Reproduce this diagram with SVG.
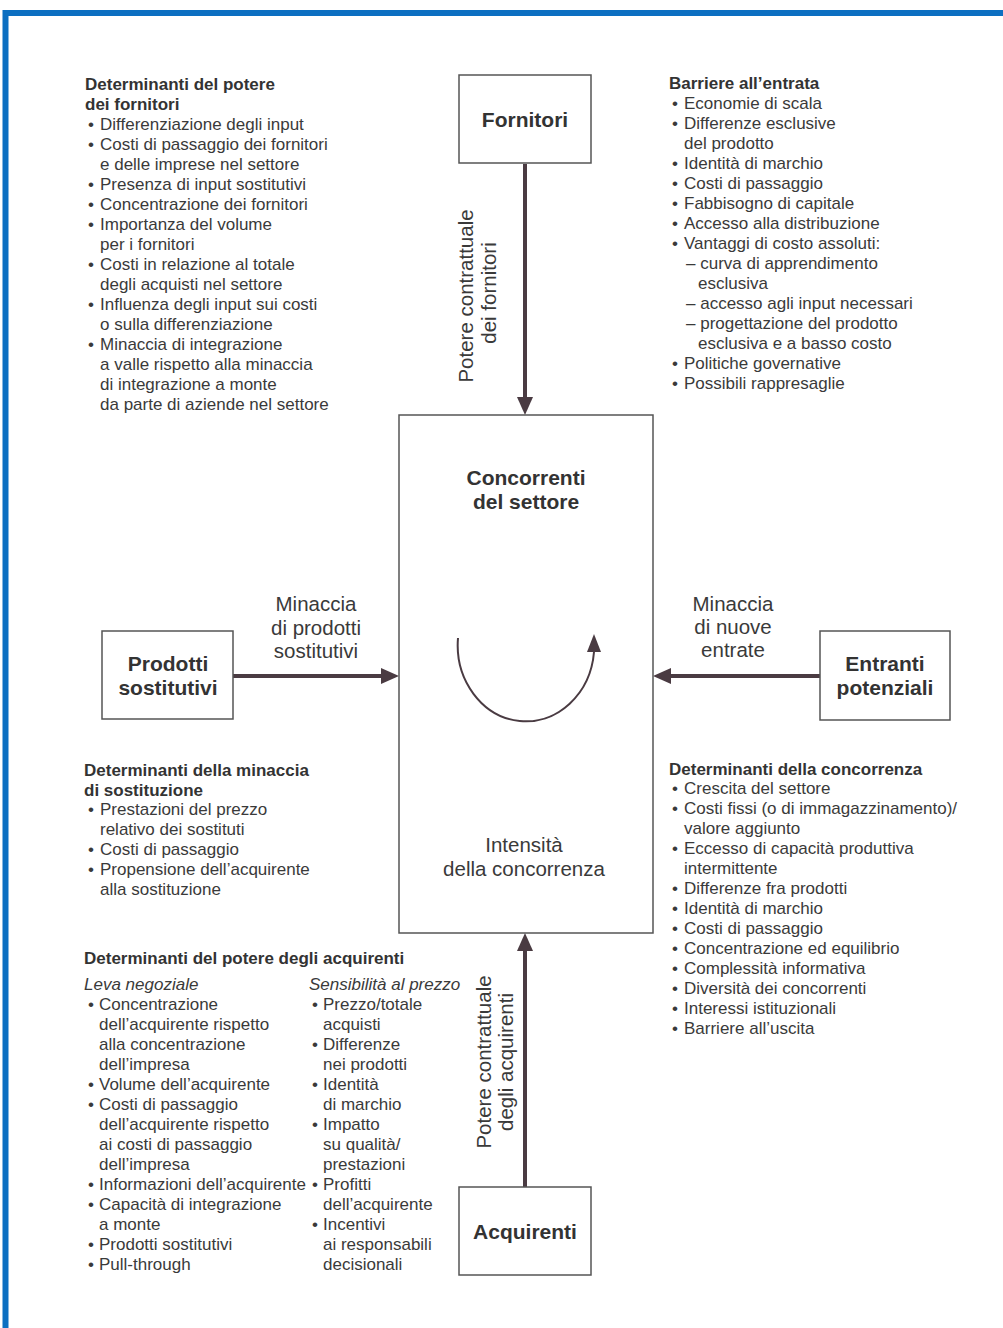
<svg xmlns="http://www.w3.org/2000/svg" width="1003" height="1328" viewBox="0 0 1003 1328">
  <style>
    .t { font-family: "Liberation Sans", Arial, sans-serif; font-size: 17px; fill: #3a3a3a; }
    .h { font-family: "Liberation Sans", Arial, sans-serif; font-size: 17px; font-weight: bold; fill: #333; }
    .i { font-family: "Liberation Sans", Arial, sans-serif; font-size: 17px; font-style: italic; fill: #3a3a3a; }
    .lbl { font-family: "Liberation Sans", Arial, sans-serif; font-size: 20.5px; fill: #3a3a3a; text-anchor: middle; }
    .node { font-family: "Liberation Sans", Arial, sans-serif; font-size: 21px; font-weight: bold; fill: #333; text-anchor: middle; }
    .box { fill: #fff; stroke: #555; stroke-width: 1.5; }
    .force { stroke: #4a3b42; stroke-width: 4; fill: none; }
    .head { fill: #4a3b42; }
  </style>

  <rect x="0" y="0" width="1003" height="1328" fill="#fff"/>
  <!-- blue frame -->
  <path d="M5.5 1328 V13 H1003" fill="none" stroke="#0c6fc1" stroke-width="6"/>

  <!-- connectors -->
  <g id="connectors">
    <line class="force" x1="525" y1="164" x2="525" y2="400"/>
    <polygon class="head" points="525,415 517,397 533,397"/>
    <line class="force" x1="233" y1="676" x2="383" y2="676"/>
    <polygon class="head" points="399,676 381,668 381,684"/>
    <line class="force" x1="820" y1="676" x2="668" y2="676"/>
    <polygon class="head" points="653,676 671,668 671,684"/>
    <line class="force" x1="525" y1="1187" x2="525" y2="950"/>
    <polygon class="head" points="525,933 517,951 533,951"/>
  </g>

  <g id="fornitori">
    <rect class="box" x="459" y="75" width="132" height="88"/>
    <text class="node" x="525" y="127">Fornitori</text>
  </g>

  <g id="concorrenti">
    <rect class="box" x="399" y="415" width="254" height="518"/>
    <text class="node" x="526" y="485">Concorrenti</text>
    <text class="node" x="526" y="509">del settore</text>
    <!-- rivalry loop -->
    <path d="M458 638 A68 76 0 0 0 594 652" fill="none" stroke="#4a3b42" stroke-width="2"/>
    <polygon class="head" points="594,634 587,652 601,652"/>
    <text class="lbl" x="524" y="852">Intensità</text>
    <text class="lbl" x="524" y="876">della concorrenza</text>
  </g>

  <g id="sostitutivi">
    <rect class="box" x="102" y="631" width="131" height="88"/>
    <text class="node" x="168" y="671">Prodotti</text>
    <text class="node" x="168" y="695">sostitutivi</text>
  </g>

  <g id="entranti">
    <rect class="box" x="820" y="631" width="130" height="89"/>
    <text class="node" x="885" y="671">Entranti</text>
    <text class="node" x="885" y="695">potenziali</text>
  </g>

  <g id="acquirenti">
    <rect class="box" x="459" y="1187" width="132" height="88"/>
    <text class="node" x="525" y="1239">Acquirenti</text>
  </g>

  <!-- force labels -->
  <g id="label-fornitori">
    <text class="lbl" transform="translate(473,296) rotate(-90)">Potere contrattuale</text>
    <text class="lbl" transform="translate(496,293) rotate(-90)">dei fornitori</text>
  </g>
  <g id="label-acquirenti">
    <text class="lbl" transform="translate(491,1062) rotate(-90)">Potere contrattuale</text>
    <text class="lbl" transform="translate(513,1062) rotate(-90)">degli acquirenti</text>
  </g>
  <g id="label-sostitutivi">
    <text class="lbl" x="316" y="611">Minaccia</text>
    <text class="lbl" x="316" y="635">di prodotti</text>
    <text class="lbl" x="316" y="658">sostitutivi</text>
  </g>
  <g id="label-entranti">
    <text class="lbl" x="733" y="611">Minaccia</text>
    <text class="lbl" x="733" y="634">di nuove</text>
    <text class="lbl" x="733" y="657">entrate</text>
  </g>

  <!-- supplier power determinants -->
  <g id="det-fornitori">
    <text class="h" x="85" y="90">Determinanti del potere</text>
    <text class="h" x="85" y="110">dei fornitori</text>
    <text class="t" x="88" y="130">•</text><text class="t" x="100" y="130">Differenziazione degli input</text>
    <text class="t" x="88" y="150">•</text><text class="t" x="100" y="150">Costi di passaggio dei fornitori</text>
    <text class="t" x="100" y="170">e delle imprese nel settore</text>
    <text class="t" x="88" y="190">•</text><text class="t" x="100" y="190">Presenza di input sostitutivi</text>
    <text class="t" x="88" y="210">•</text><text class="t" x="100" y="210">Concentrazione dei fornitori</text>
    <text class="t" x="88" y="230">•</text><text class="t" x="100" y="230">Importanza del volume</text>
    <text class="t" x="100" y="250">per i fornitori</text>
    <text class="t" x="88" y="270">•</text><text class="t" x="100" y="270">Costi in relazione al totale</text>
    <text class="t" x="100" y="290">degli acquisti nel settore</text>
    <text class="t" x="88" y="310">•</text><text class="t" x="100" y="310">Influenza degli input sui costi</text>
    <text class="t" x="100" y="330">o sulla differenziazione</text>
    <text class="t" x="88" y="350">•</text><text class="t" x="100" y="350">Minaccia di integrazione</text>
    <text class="t" x="100" y="370">a valle rispetto alla minaccia</text>
    <text class="t" x="100" y="390">di integrazione a monte</text>
    <text class="t" x="100" y="410">da parte di aziende nel settore</text>
  </g>

  <!-- entry barriers -->
  <g id="barriere">
    <text class="h" x="669" y="89">Barriere all’entrata</text>
    <text class="t" x="672" y="109">•</text><text class="t" x="684" y="109">Economie di scala</text>
    <text class="t" x="672" y="129">•</text><text class="t" x="684" y="129">Differenze esclusive</text>
    <text class="t" x="684" y="149">del prodotto</text>
    <text class="t" x="672" y="169">•</text><text class="t" x="684" y="169">Identità di marchio</text>
    <text class="t" x="672" y="189">•</text><text class="t" x="684" y="189">Costi di passaggio</text>
    <text class="t" x="672" y="209">•</text><text class="t" x="684" y="209">Fabbisogno di capitale</text>
    <text class="t" x="672" y="229">•</text><text class="t" x="684" y="229">Accesso alla distribuzione</text>
    <text class="t" x="672" y="249">•</text><text class="t" x="684" y="249">Vantaggi di costo assoluti:</text>
    <text class="t" x="686" y="269">– curva di apprendimento</text>
    <text class="t" x="698" y="289">esclusiva</text>
    <text class="t" x="686" y="309">– accesso agli input necessari</text>
    <text class="t" x="686" y="329">– progettazione del prodotto</text>
    <text class="t" x="698" y="349">esclusiva e a basso costo</text>
    <text class="t" x="672" y="369">•</text><text class="t" x="684" y="369">Politiche governative</text>
    <text class="t" x="672" y="389">•</text><text class="t" x="684" y="389">Possibili rappresaglie</text>
  </g>

  <!-- substitution threat determinants -->
  <g id="det-sostituzione">
    <text class="h" x="84" y="776">Determinanti della minaccia</text>
    <text class="h" x="84" y="796">di sostituzione</text>
    <text class="t" x="88" y="815">•</text><text class="t" x="100" y="815">Prestazioni del prezzo</text>
    <text class="t" x="100" y="835">relativo dei sostituti</text>
    <text class="t" x="88" y="855">•</text><text class="t" x="100" y="855">Costi di passaggio</text>
    <text class="t" x="88" y="875">•</text><text class="t" x="100" y="875">Propensione dell’acquirente</text>
    <text class="t" x="100" y="895">alla sostituzione</text>
  </g>

  <!-- rivalry determinants -->
  <g id="det-concorrenza">
    <text class="h" x="669" y="775">Determinanti della concorrenza</text>
    <text class="t" x="672" y="794">•</text><text class="t" x="684" y="794">Crescita del settore</text>
    <text class="t" x="672" y="814">•</text><text class="t" x="684" y="814">Costi fissi (o di immagazzinamento)/</text>
    <text class="t" x="684" y="834">valore aggiunto</text>
    <text class="t" x="672" y="854">•</text><text class="t" x="684" y="854">Eccesso di capacità produttiva</text>
    <text class="t" x="684" y="874">intermittente</text>
    <text class="t" x="672" y="894">•</text><text class="t" x="684" y="894">Differenze fra prodotti</text>
    <text class="t" x="672" y="914">•</text><text class="t" x="684" y="914">Identità di marchio</text>
    <text class="t" x="672" y="934">•</text><text class="t" x="684" y="934">Costi di passaggio</text>
    <text class="t" x="672" y="954">•</text><text class="t" x="684" y="954">Concentrazione ed equilibrio</text>
    <text class="t" x="672" y="974">•</text><text class="t" x="684" y="974">Complessità informativa</text>
    <text class="t" x="672" y="994">•</text><text class="t" x="684" y="994">Diversità dei concorrenti</text>
    <text class="t" x="672" y="1014">•</text><text class="t" x="684" y="1014">Interessi istituzionali</text>
    <text class="t" x="672" y="1034">•</text><text class="t" x="684" y="1034">Barriere all’uscita</text>
  </g>

  <!-- buyer power determinants -->
  <g id="det-acquirenti">
    <text class="h" x="84" y="964">Determinanti del potere degli acquirenti</text>
    <text class="i" x="84" y="990">Leva negoziale</text>
    <text class="i" x="309" y="990">Sensibilità al prezzo</text>

    <text class="t" x="88" y="1010">•</text><text class="t" x="99" y="1010">Concentrazione</text>
    <text class="t" x="99" y="1030">dell’acquirente rispetto</text>
    <text class="t" x="99" y="1050">alla concentrazione</text>
    <text class="t" x="99" y="1070">dell’impresa</text>
    <text class="t" x="88" y="1090">•</text><text class="t" x="99" y="1090">Volume dell’acquirente</text>
    <text class="t" x="88" y="1110">•</text><text class="t" x="99" y="1110">Costi di passaggio</text>
    <text class="t" x="99" y="1130">dell’acquirente rispetto</text>
    <text class="t" x="99" y="1150">ai costi di passaggio</text>
    <text class="t" x="99" y="1170">dell’impresa</text>
    <text class="t" x="88" y="1190">•</text><text class="t" x="99" y="1190">Informazioni dell’acquirente</text>
    <text class="t" x="88" y="1210">•</text><text class="t" x="99" y="1210">Capacità di integrazione</text>
    <text class="t" x="99" y="1230">a monte</text>
    <text class="t" x="88" y="1250">•</text><text class="t" x="99" y="1250">Prodotti sostitutivi</text>
    <text class="t" x="88" y="1270">•</text><text class="t" x="99" y="1270">Pull-through</text>

    <text class="t" x="312" y="1010">•</text><text class="t" x="323" y="1010">Prezzo/totale</text>
    <text class="t" x="323" y="1030">acquisti</text>
    <text class="t" x="312" y="1050">•</text><text class="t" x="323" y="1050">Differenze</text>
    <text class="t" x="323" y="1070">nei prodotti</text>
    <text class="t" x="312" y="1090">•</text><text class="t" x="323" y="1090">Identità</text>
    <text class="t" x="323" y="1110">di marchio</text>
    <text class="t" x="312" y="1130">•</text><text class="t" x="323" y="1130">Impatto</text>
    <text class="t" x="323" y="1150">su qualità/</text>
    <text class="t" x="323" y="1170">prestazioni</text>
    <text class="t" x="312" y="1190">•</text><text class="t" x="323" y="1190">Profitti</text>
    <text class="t" x="323" y="1210">dell’acquirente</text>
    <text class="t" x="312" y="1230">•</text><text class="t" x="323" y="1230">Incentivi</text>
    <text class="t" x="323" y="1250">ai responsabili</text>
    <text class="t" x="323" y="1270">decisionali</text>
  </g>
</svg>
